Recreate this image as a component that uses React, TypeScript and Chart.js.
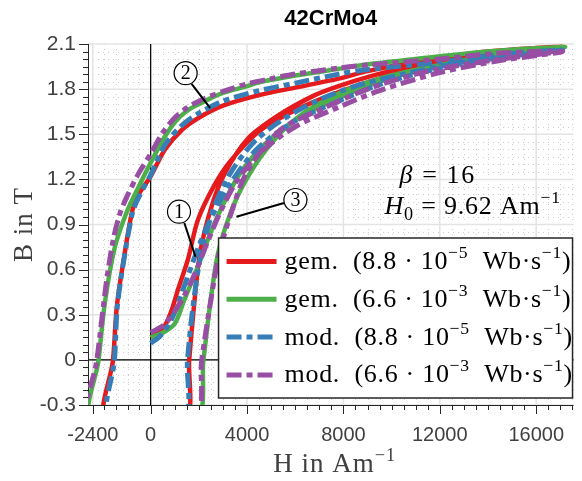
import React, { useEffect, useRef } from 'react';
import { Chart, registerables } from 'chart.js';

Chart.register(...registerables);

// ---------- text ----------
const TITLE = '42CrMo4';
const X_TITLE = 'H in Am⁻¹';
const Y_TITLE = 'B in T';
const BETA_TEXT = 'β = 16';
const H0_TEXT = 'H₀ = 9.62 Am⁻¹';

// ---------- axes ----------
const xMajorTicks = [-2400, 0, 4000, 8000, 12000, 16000];
const yMajorTicks = [-0.3, 0, 0.3, 0.6, 0.9, 1.2, 1.5, 1.8, 2.1];

// ---------- series labels ----------
const seriesLabels = [
  'gem.  (8.8 · 10⁻⁵  Wb·s⁻¹)',
  'gem.  (6.6 · 10⁻³  Wb·s⁻¹)',
  'mod.  (8.8 · 10⁻⁵  Wb·s⁻¹)',
  'mod.  (6.6 · 10⁻³  Wb·s⁻¹)',
];

// ---------- data: path = initial curve -> descending branch -> ascending branch ----------
// gem. 8.8e-5 (red)
const gemSlowH = [
  0, 300, 600, 870, 1140, 1550, 1960, 2640, 3300, 4500, 6000, 7800, 9500, 11500, 14000, 17100,
  14000, 11000, 9000, 7800, 6000, 4500, 3000, 2000, 1300, 600, 0, -500, -750, -1075, -1400, -1560, -1850,
  1400, 1600, 1800, 2050, 2530, 3075, 4030, 5250, 6750, 7800, 9000, 11000, 14000, 17100,
];
const gemSlowB = [
  0.15, 0.18, 0.23, 0.33, 0.47, 0.67, 0.93, 1.16, 1.32, 1.52, 1.66, 1.78, 1.87, 1.95, 2.02, 2.08,
  2.05, 1.98, 1.92, 1.87, 1.81, 1.76, 1.69, 1.61, 1.53, 1.4, 1.22, 1.1, 1.0, 0.71, 0.36, 0, -0.4,
  -0.4, 0, 0.36, 0.71, 1.02, 1.24, 1.47, 1.62, 1.755, 1.82, 1.88, 1.96, 2.04, 2.08,
];
// gem. 6.6e-3 (green)
const gemFastH = [
  0, 500, 1000, 1400, 1960, 2500, 3000, 3750, 4850, 6200, 7800, 9500, 11500, 14000, 17200,
  14000, 11000, 9000, 7800, 6000, 4500, 4000, 3000, 2500, 2000, 1500, 1000, 500, 0, -500, -1000, -1500, -1900, -2160, -2450,
  1850, 2190, 2460, 2800, 3300, 3900, 4800, 6000, 7800, 9500, 12000, 14500, 17200,
];
const gemFastB = [
  0.15, 0.18, 0.24, 0.4, 0.62, 0.85, 1.03, 1.25, 1.45, 1.61, 1.74, 1.85, 1.94, 2.02, 2.08,
  2.05, 2.0, 1.965, 1.935, 1.89, 1.845, 1.82, 1.775, 1.74, 1.7, 1.655, 1.58, 1.46, 1.31, 1.15, 0.98, 0.74, 0.38, 0, -0.4,
  -0.4, 0, 0.36, 0.71, 0.97, 1.18, 1.4, 1.6, 1.77, 1.87, 1.96, 2.03, 2.08,
];
// mod. 8.8e-5 (blue)
const modSlowH = [
  0, 400, 870, 1415, 1960, 2500, 3300, 4400, 5900, 7800, 9500, 12000, 14500, 17100,
  14500, 12000, 9000, 7800, 6000, 4500, 3000, 2000, 1300, 600, 0, -500, -750, -1075, -1380, -1500, -1720,
  1350, 1530, 1760, 2100, 2650, 3300, 4300, 5500, 7000, 8500, 10500, 13000, 15500, 17100,
];
const modSlowB = [
  0.11, 0.16, 0.27, 0.5, 0.74, 0.94, 1.17, 1.4, 1.58, 1.72, 1.83, 1.94, 2.01, 2.06,
  2.03, 1.98, 1.93, 1.9, 1.84, 1.79, 1.72, 1.64, 1.56, 1.43, 1.23, 1.08, 0.98, 0.7, 0.36, 0, -0.4,
  -0.4, 0, 0.36, 0.71, 1.02, 1.24, 1.45, 1.6, 1.73, 1.82, 1.9, 1.98, 2.03, 2.06,
];
// mod. 6.6e-3 (purple)
const modFastH = [
  0, 600, 1300, 1850, 2400, 2940, 3620, 4570, 6000, 7800, 9500, 12000, 14500, 17100,
  14500, 12000, 9000, 7800, 6000, 5000, 4000, 3000, 2500, 2000, 1500, 1000, 500, 0, -500, -1000, -1300, -1550, -1800, -1960, -2100, -2230, -2600,
  1800, 2120, 2460, 2850, 3350, 4000, 5400, 7265, 9000, 11000, 12700, 15000, 17100,
];
const modFastB = [
  0.18, 0.24, 0.4, 0.58, 0.8, 1.0, 1.2, 1.38, 1.55, 1.68, 1.79, 1.91, 1.99, 2.05,
  2.04, 2.0, 1.96, 1.94, 1.9, 1.87, 1.835, 1.785, 1.755, 1.72, 1.675, 1.61, 1.51, 1.37, 1.24, 1.08, 0.96, 0.8, 0.56, 0.36, 0.17, 0, -0.45,
  -0.4, 0, 0.36, 0.71, 0.98, 1.25, 1.53, 1.68, 1.8, 1.9, 1.955, 2.01, 2.05,
];

const seriesH = [gemSlowH, gemFastH, modSlowH, modFastH];
const seriesB = [gemSlowB, gemFastB, modSlowB, modFastB];

// ---------- styles ----------
const COLORS = ['#e41a1c', '#4daf4a', '#377eb8', '#984ea3'];
const DASH_DOT = [15, 5, 6, 5];
const SERIF = "'Liberation Serif', 'Times New Roman', serif";
const SANS = "'Liberation Sans', Arial, sans-serif";
const GREY = '#404040';

// annotation anchors (data units)
const circleMarks = [
  { n: '1', cx: 1176, cy: 0.985, fx: 1399, fy: 0.91, tx: 1861, ty: 0.686 },
  { n: '2', cx: 1452, cy: 1.906, fx: 1700, fy: 1.835, tx: 2472, ty: 1.673 },
  { n: '3', cx: 6008, cy: 1.063, fx: 5530, fy: 1.043, tx: 3559, ty: 0.952 },
];

const SUP: Record<string, string> = { '⁻': '−', '⁰': '0', '¹': '1', '²': '2', '³': '3', '⁴': '4', '⁵': '5', '⁶': '6', '⁷': '7', '⁸': '8', '⁹': '9' };
const SUB: Record<string, string> = { '₀': '0', '₁': '1' };

type Run = { t: string; kind: 'n' | 'i' | 'sup' | 'sub' };

function parseScript(text: string, italic: string = ''): Run[] {
  const runs: Run[] = [];
  for (const ch of text) {
    let kind: Run['kind'] = 'n';
    let c = ch;
    if (SUP[ch] !== undefined) { kind = 'sup'; c = SUP[ch]; }
    else if (SUB[ch] !== undefined) { kind = 'sub'; c = SUB[ch]; }
    else if (italic.includes(ch)) kind = 'i';
    const last = runs[runs.length - 1];
    if (last && last.kind === kind) last.t += c;
    else runs.push({ t: c, kind });
  }
  return runs;
}

function drawRuns(ctx: any, runs: Run[], x: number, y: number, size: number, family: string, spacing = 0) {
  let cx = x;
  ctx.letterSpacing = `${spacing}px`;
  for (const r of runs) {
    let s = size;
    let dy = 0;
    let style = '';
    if (r.kind === 'sup') { s = size * 0.68; dy = -size * 0.42; }
    if (r.kind === 'sub') { s = size * 0.7; dy = size * 0.22; }
    if (r.kind === 'i') style = 'italic ';
    ctx.font = `${style}${s}px ${family}`;
    ctx.fillText(r.t, cx, y + dy);
    cx += ctx.measureText(r.t).width;
  }
  ctx.letterSpacing = '0px';
  return cx - x;
}

function minorValues(majors: number[], subdiv: number[], extendTo: number) {
  const out: number[] = [];
  for (let i = 0; i < majors.length - 1; i++) {
    const a = majors[i];
    const b = majors[i + 1];
    const n = subdiv[i];
    for (let k = 1; k < n; k++) out.push(a + ((b - a) * k) / n);
  }
  const last = majors[majors.length - 1];
  const step = (majors[majors.length - 1] - majors[majors.length - 2]) / subdiv[subdiv.length - 1];
  for (let v = last + step; v <= extendTo + 1e-9; v += step) out.push(v);
  return out;
}

const hystPlugin = {
  id: 'hyst',
  beforeDraw(chart: any) {
    const { ctx, width, height } = chart;
    ctx.save();
    ctx.fillStyle = '#ffffff';
    ctx.fillRect(0, 0, width, height);
    ctx.restore();
  },
  beforeDatasetsDraw(chart: any) {
    const { ctx, chartArea: a, scales } = chart;
    const xs = scales.x;
    const ys = scales.y;
    const xMinor = minorValues(xMajorTicks, [5, 8, 8, 8, 8], xs.max);
    const yMinor = minorValues(yMajorTicks, [6, 6, 6, 6, 6, 6, 6, 6], ys.max - 0.001);
    ctx.save();
    // minor dotted grid
    ctx.strokeStyle = '#cdcdcd';
    ctx.lineWidth = 1;
    ctx.setLineDash([1, 4]);
    for (const v of xMinor) {
      const px = Math.round(xs.getPixelForValue(v)) + 0.5;
      ctx.beginPath(); ctx.moveTo(px, a.top); ctx.lineTo(px, a.bottom); ctx.stroke();
    }
    for (const v of yMinor) {
      const py = Math.round(ys.getPixelForValue(v)) + 0.5;
      ctx.beginPath(); ctx.moveTo(a.left, py); ctx.lineTo(a.right, py); ctx.stroke();
    }
    // major grid
    ctx.setLineDash([]);
    ctx.strokeStyle = '#e3e3e3';
    ctx.lineWidth = 1.5;
    for (const v of yMajorTicks) {
      const py = ys.getPixelForValue(v);
      ctx.beginPath(); ctx.moveTo(a.left, py); ctx.lineTo(a.right, py); ctx.stroke();
    }
    for (const v of xMajorTicks) {
      const px = xs.getPixelForValue(v);
      ctx.beginPath(); ctx.moveTo(px, a.top); ctx.lineTo(px, a.bottom); ctx.stroke();
    }
    // zero lines
    ctx.strokeStyle = '#000000';
    ctx.lineWidth = 1.2;
    const x0 = xs.getPixelForValue(0);
    const y0 = ys.getPixelForValue(0);
    ctx.beginPath(); ctx.moveTo(x0, a.top); ctx.lineTo(x0, a.bottom); ctx.stroke();
    ctx.beginPath(); ctx.moveTo(a.left, y0); ctx.lineTo(a.right, y0); ctx.stroke();
    // axes lines + ticks
    ctx.strokeStyle = '#262626';
    ctx.lineWidth = 1;
    ctx.beginPath(); ctx.moveTo(a.left + 0.5, a.top); ctx.lineTo(a.left + 0.5, a.bottom); ctx.stroke();
    ctx.beginPath(); ctx.moveTo(a.left, a.bottom + 0.5); ctx.lineTo(a.right, a.bottom + 0.5); ctx.stroke();
    for (const v of yMajorTicks) {
      const py = Math.round(ys.getPixelForValue(v)) + 0.5;
      ctx.beginPath(); ctx.moveTo(a.left - 9, py); ctx.lineTo(a.left, py); ctx.stroke();
    }
    for (const v of yMinor) {
      const py = Math.round(ys.getPixelForValue(v)) + 0.5;
      ctx.beginPath(); ctx.moveTo(a.left - 5, py); ctx.lineTo(a.left, py); ctx.stroke();
    }
    for (const v of xMajorTicks) {
      const px = Math.round(xs.getPixelForValue(v)) + 0.5;
      ctx.beginPath(); ctx.moveTo(px, a.bottom); ctx.lineTo(px, a.bottom + 9); ctx.stroke();
    }
    for (const v of xMinor) {
      const px = Math.round(xs.getPixelForValue(v)) + 0.5;
      ctx.beginPath(); ctx.moveTo(px, a.bottom); ctx.lineTo(px, a.bottom + 5); ctx.stroke();
    }
    ctx.restore();
  },
  afterDatasetsDraw(chart: any) {
    const { ctx, chartArea: a, scales, height } = chart;
    const xs = scales.x;
    const ys = scales.y;
    ctx.save();

    // title
    ctx.fillStyle = '#000000';
    ctx.font = `bold 22px ${SANS}`;
    ctx.textAlign = 'center';
    ctx.textBaseline = 'middle';
    ctx.fillText(TITLE, (a.left + a.right) / 2, 19);

    // axis titles
    ctx.fillStyle = GREY;
    ctx.textAlign = 'left';
    ctx.textBaseline = 'alphabetic';
    {
      const runs = parseScript(X_TITLE);
      ctx.globalAlpha = 0;
      const w = drawRuns(ctx, runs, 0, -100, 27, SERIF, 1);
      ctx.globalAlpha = 1;
      drawRuns(ctx, runs, (a.left + a.right) / 2 + 4 - w / 2, height - 9, 27, SERIF, 1);
    }
    {
      ctx.save();
      ctx.translate(32, (a.top + a.bottom) / 2);
      ctx.rotate(-Math.PI / 2);
      const runs = parseScript(Y_TITLE);
      ctx.globalAlpha = 0;
      const w = drawRuns(ctx, runs, 0, -100, 27, SERIF, 1);
      ctx.globalAlpha = 1;
      drawRuns(ctx, runs, -w / 2, 0, 27, SERIF, 1);
      ctx.restore();
    }

    // circled markers with leader lines
    for (const m of circleMarks) {
      ctx.strokeStyle = '#000000';
      ctx.lineWidth = 2;
      ctx.beginPath();
      ctx.moveTo(xs.getPixelForValue(m.fx), ys.getPixelForValue(m.fy));
      ctx.lineTo(xs.getPixelForValue(m.tx), ys.getPixelForValue(m.ty));
      ctx.stroke();
      const cx = xs.getPixelForValue(m.cx);
      const cy = ys.getPixelForValue(m.cy);
      ctx.fillStyle = '#ffffff';
      ctx.lineWidth = 1.2;
      ctx.beginPath();
      ctx.arc(cx, cy, 11.5, 0, Math.PI * 2);
      ctx.fill();
      ctx.stroke();
      ctx.fillStyle = '#000000';
      ctx.font = `20px ${SERIF}`;
      ctx.textAlign = 'center';
      ctx.textBaseline = 'middle';
      ctx.fillText(m.n, cx, cy + 1);
    }

    // parameter text
    ctx.textAlign = 'left';
    ctx.textBaseline = 'alphabetic';
    ctx.fillStyle = '#000000';
    drawRuns(ctx, parseScript(BETA_TEXT, 'β'), xs.getPixelForValue(10330), ys.getPixelForValue(1.176), 26, SERIF, 1.6);
    drawRuns(ctx, parseScript(H0_TEXT, 'H'), xs.getPixelForValue(9700), ys.getPixelForValue(0.97), 26, SERIF, 0.8);

    // legend box
    const lw = 354;
    const lh = 160;
    const lx = a.right - lw - 1;
    const ly = a.bottom - lh - 7;
    ctx.fillStyle = '#ffffff';
    ctx.fillRect(lx, ly, lw, lh);
    ctx.strokeStyle = '#262626';
    ctx.lineWidth = 1.5;
    ctx.strokeRect(lx, ly, lw, lh);
    for (let i = 0; i < seriesLabels.length; i++) {
      const ry = ly + 23.5 + i * 37.8;
      ctx.strokeStyle = COLORS[i];
      ctx.lineWidth = 5;
      ctx.setLineDash(i >= 2 ? DASH_DOT : []);
      ctx.beginPath(); ctx.moveTo(lx + 8, ry); ctx.lineTo(lx + 58, ry); ctx.stroke();
      ctx.setLineDash([]);
      ctx.fillStyle = '#000000';
      drawRuns(ctx, parseScript(seriesLabels[i]), lx + 66, ry + 7.5, 26, SERIF, 0.7);
    }
    ctx.restore();
  },
};

export default function App() {
  const ref = useRef<HTMLCanvasElement | null>(null);
  useEffect(() => {
    document.body.style.margin = '0';
    const canvas = ref.current;
    if (!canvas) return;
    const datasets = seriesLabels.map((label, i) => ({
      label,
      data: seriesH[i].map((h, k) => ({ x: h, y: seriesB[i][k] })),
      borderColor: COLORS[i],
      backgroundColor: COLORS[i],
      borderWidth: i >= 2 ? 5 : 4.5,
      borderDash: i >= 2 ? DASH_DOT : [],
      borderCapStyle: 'butt',
      borderJoinStyle: 'round',
      pointRadius: 0,
      showLine: true,
      tension: 0.3,
      fill: false,
      order: 4 - i,
    }));
    const chart = new Chart(canvas, {
      type: 'scatter',
      data: { datasets } as any,
      options: {
        responsive: false,
        animation: false,
        events: [],
        devicePixelRatio: 1,
        layout: { padding: { top: 44, right: 0, left: 0, bottom: 0 } },
        plugins: {
          legend: { display: false },
          title: { display: false },
          tooltip: { enabled: false },
        },
        scales: {
          x: {
            type: 'linear',
            min: -2600,
            max: 17550,
            afterBuildTicks: (s: any) => { s.ticks = xMajorTicks.map((v) => ({ value: v })); },
            afterFit: (s: any) => { s.height = 76; },
            grid: { display: false, drawTicks: false },
            border: { display: false },
            ticks: {
              autoSkip: false,
              maxRotation: 0,
              padding: 18,
              color: GREY,
              font: { family: SANS, size: 20 },
              callback: (v: any) => String(v),
            },
            title: { display: false },
          },
          y: {
            type: 'linear',
            min: -0.3,
            max: 2.1,
            afterBuildTicks: (s: any) => { s.ticks = yMajorTicks.map((v) => ({ value: v })); },
            afterFit: (s: any) => { s.width = 88; },
            grid: { display: false, drawTicks: false },
            border: { display: false },
            ticks: {
              autoSkip: false,
              padding: 12,
              color: GREY,
              font: { family: SANS, size: 21 },
              callback: (v: any) => (Math.abs(v) < 1e-9 ? '0' : Number(v).toFixed(1)),
            },
            title: { display: false },
          },
        },
      } as any,
      plugins: [hystPlugin],
    });
    return () => chart.destroy();
  }, []);
  return (
    <div style={{ width: 582, height: 481, position: 'relative' }}>
      <canvas ref={ref} width={582} height={481} style={{ display: 'block' }} />
    </div>
  );
}
